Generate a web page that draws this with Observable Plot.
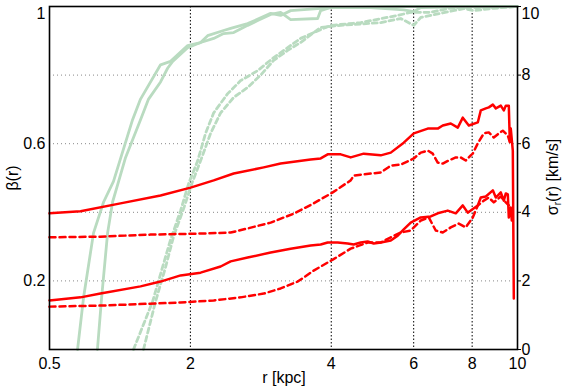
<!DOCTYPE html>
<html>
<head>
<meta charset="utf-8">
<script src="https://cdn.jsdelivr.net/npm/d3@7"></script>
<script src="https://cdn.jsdelivr.net/npm/@observablehq/plot@0.6"></script>
<style>
  html, body { margin: 0; padding: 0; background: #fff; }
  #chart { width: 565px; height: 390px; }
  svg { font-family: "Liberation Sans", Arial, sans-serif; }
</style>
</head>
<body>
<div id="chart"></div>
<script>
// ---- axis ticks ----
const xTickValues = [1, 2, 4, 6, 8, 10];
const xTickLabels = ["0.5", "2", "4", "6", "8", "10"];
const betaTicks = [0.2, 0.6, 1];
const betaGrid = [0.2, 0.4, 0.6, 0.8];
const sigmaTicks = [0, 2, 4, 6, 8, 10];
const sigmaMax = 10;

// ---- beta(r) curves (green) ----
const rBetaSolidA = [1.148, 1.182, 1.242, 1.305, 1.370, 1.505, 1.565, 1.727, 1.814, 1.973, 2.103, 2.177, 2.355, 2.438, 2.651, 2.969, 3.118, 3.276, 3.989, 5.630, 10];
const betaSolidA  = [0.00, 0.15, 0.34, 0.43, 0.49, 0.67, 0.73, 0.83, 0.84, 0.886, 0.895, 0.915, 0.93, 0.936, 0.95, 0.98, 0.974, 0.988, 0.997, 1.0, 1.0];

const rBetaSolidB = [1.266, 1.292, 1.331, 1.364, 1.405, 1.454, 1.565, 1.628, 1.727, 1.788, 1.833, 1.973, 2.103, 2.243, 2.355, 2.475, 2.651, 2.785, 2.969, 3.118, 3.276, 3.741, 3.797, 3.989, 4.857, 5.714, 6.003, 6.213, 7.945, 10];
const betaSolidB  = [0.00, 0.15, 0.34, 0.43, 0.49, 0.56, 0.67, 0.73, 0.78, 0.82, 0.84, 0.88, 0.895, 0.907, 0.921, 0.924, 0.945, 0.959, 0.977, 0.983, 0.962, 0.965, 0.988, 0.997, 0.997, 0.99, 0.985, 0.997, 1.0, 1.0];

const rBetaDashA = [1.512, 1.661, 1.744, 1.814, 1.906, 1.983, 2.073, 2.155, 2.243, 2.403, 2.561, 2.785, 3.013, 3.228, 3.440, 3.668, 3.989, 4.623, 5.547, 5.913, 6.526, 7.095, 7.676, 8.641, 9.917];
const betaDashA  = [0.00, 0.14, 0.24, 0.32, 0.405, 0.484, 0.55, 0.63, 0.69, 0.746, 0.784, 0.813, 0.851, 0.88, 0.907, 0.924, 0.945, 0.953, 0.974, 0.983, 0.983, 0.994, 0.997, 0.997, 1.0];

const rBetaDashB = [1.588, 1.685, 1.770, 1.842, 1.934, 2.022, 2.103, 2.209, 2.321, 2.475, 2.651, 2.826, 3.013, 3.228, 3.440, 3.797, 4.191, 5.103, 5.630, 6.003, 6.213, 6.855, 7.676, 8.063, 8.769, 9.917];
const betaDashB  = [0.00, 0.14, 0.24, 0.33, 0.41, 0.49, 0.55, 0.63, 0.69, 0.735, 0.764, 0.80, 0.843, 0.872, 0.895, 0.939, 0.945, 0.953, 0.965, 0.945, 0.968, 0.98, 0.994, 0.988, 0.994, 1.0];

// ---- sigma_r(r) curves (red, km/s) ----
const rSigSolidUp = [1.000, 1.165, 1.418, 1.727, 2.002, 2.243, 2.475, 2.869, 3.118, 3.614, 3.797, 3.930, 4.191, 4.401, 4.692, 5.103, 5.361, 5.714, 6.003, 6.430, 6.754, 6.923, 7.201, 7.454, 7.640, 7.869, 8.225, 8.348, 8.556, 8.683, 8.857, 8.988, 9.211, 9.348, 9.441, 9.581, 9.628, 9.675, 9.772, 9.820];
const sigSolidUp  = [3.97, 4.03, 4.26, 4.49, 4.72, 4.93, 5.13, 5.31, 5.42, 5.54, 5.57, 5.69, 5.69, 5.60, 5.71, 5.66, 5.74, 6.03, 6.30, 6.44, 6.44, 6.53, 6.59, 6.47, 6.76, 6.53, 6.62, 6.97, 7.03, 7.06, 7.14, 7.03, 7.11, 6.97, 7.11, 7.11, 6.09, 6.44, 5.80, 1.49];

const rSigSolidLo = [1.000, 1.165, 1.285, 1.565, 1.727, 1.906, 2.103, 2.321, 2.438, 2.651, 2.969, 3.276, 3.614, 3.797, 3.930, 4.129, 4.337, 4.467, 4.623, 4.785, 4.930, 5.103, 5.361, 5.547, 5.714, 5.913, 6.213, 6.526, 6.754, 7.095, 7.381, 7.640, 7.829, 7.945, 8.225, 8.348, 8.556, 8.857, 8.988, 9.211, 9.348, 9.441, 9.535, 9.581, 9.675, 9.723];
const sigSolidLo  = [1.43, 1.52, 1.63, 1.84, 1.98, 2.16, 2.24, 2.42, 2.57, 2.68, 2.83, 2.94, 3.03, 3.06, 3.12, 3.12, 3.09, 3.06, 3.12, 3.15, 3.09, 3.12, 3.18, 3.32, 3.50, 3.70, 3.85, 3.88, 3.97, 4.05, 3.97, 4.20, 3.99, 4.05, 4.20, 4.43, 4.46, 4.64, 4.43, 4.58, 4.34, 4.55, 4.52, 3.85, 4.14, 3.76];

const rSigDashUp = [1.000, 1.285, 1.644, 2.103, 2.438, 2.651, 2.969, 3.325, 3.668, 4.029, 4.401, 4.467, 4.857, 5.103, 5.361, 5.630, 6.003, 6.213, 6.430, 6.590, 6.754, 6.923, 7.130, 7.381, 7.564, 7.752, 7.945, 8.024, 8.225, 8.472, 8.683, 8.899, 9.121, 9.303, 9.535, 9.675];
const sigDashUp  = [3.27, 3.29, 3.35, 3.38, 3.41, 3.53, 3.70, 3.96, 4.26, 4.58, 4.93, 5.07, 5.13, 5.16, 5.36, 5.39, 5.57, 5.74, 5.80, 5.71, 5.45, 5.42, 5.51, 5.60, 5.60, 5.51, 5.66, 5.71, 6.01, 6.30, 6.33, 6.18, 6.30, 6.38, 6.24, 5.95];

const rSigDashLo = [1.000, 1.285, 1.906, 2.243, 2.561, 2.869, 3.118, 3.391, 3.668, 4.029, 4.401, 4.785, 5.103, 5.361, 5.630, 5.913, 6.213, 6.462, 6.688, 6.923, 7.201, 7.490, 7.752, 8.024, 8.225, 8.472, 8.683, 8.899, 9.211, 9.441, 9.581];
const sigDashLo  = [1.25, 1.28, 1.37, 1.43, 1.52, 1.63, 1.78, 1.98, 2.30, 2.62, 2.94, 3.12, 3.12, 3.27, 3.41, 3.47, 3.76, 3.85, 3.47, 3.41, 3.56, 3.67, 3.56, 3.85, 4.20, 4.34, 4.43, 4.29, 4.46, 4.29, 4.20];

// ---- build tables ----
const toRows = (rs, vs, scale = 1) => rs.map((r, i) => ({r, v: vs[i] / scale}));
const green = "#b9dbc0";
const red = "#ff0000";

const greenSolid = {x: "r", y: "v", stroke: green, strokeWidth: 2.8, strokeLinejoin: "round"};
const greenDash = {...greenSolid, strokeDasharray: "5,3.5"};
const redSolid = {x: "r", y: "v", stroke: red, strokeWidth: 2.5, strokeLinejoin: "round"};
const redDash = {...redSolid, strokeDasharray: "6,4"};

const xLabelRows = xTickValues.map((v, i) => ({v, label: xTickLabels[i]}));

const plot = Plot.plot({
  width: 565,
  height: 390,
  marginLeft: 49,
  marginRight: 48,
  marginTop: 6,
  marginBottom: 41,
  style: {fontFamily: "'Liberation Sans', Arial, sans-serif", fontSize: "16px", background: "#fff"},
  x: {type: "log", domain: [1, 10], axis: null},
  y: {domain: [0, 1], axis: null},
  marks: [
    Plot.gridY(betaGrid, {stroke: "#888", strokeOpacity: 1, strokeWidth: 1, strokeDasharray: "1,3"}),
    Plot.gridX(xTickValues.slice(1, -1), {stroke: "#000", strokeOpacity: 1, strokeWidth: 1, strokeDasharray: "1.5,2"}),
    Plot.line(toRows(rBetaSolidA, betaSolidA), greenSolid),
    Plot.line(toRows(rBetaSolidB, betaSolidB), greenSolid),
    Plot.line(toRows(rBetaDashA, betaDashA), greenDash),
    Plot.line(toRows(rBetaDashB, betaDashB), greenDash),
    Plot.line(toRows(rSigDashUp, sigDashUp, sigmaMax), redDash),
    Plot.line(toRows(rSigDashLo, sigDashLo, sigmaMax), redDash),
    Plot.line(toRows(rSigSolidUp, sigSolidUp, sigmaMax), redSolid),
    Plot.line(toRows(rSigSolidLo, sigSolidLo, sigmaMax), redSolid),
    Plot.frame({stroke: "#000", strokeWidth: 1.6}),
    Plot.text(xLabelRows, {
      x: "v", y: 0, text: "label", dy: 8, lineAnchor: "top",
      fontSize: 16, fill: "#000"
    }),
    Plot.axisY(betaTicks, {
      anchor: "left", tickSize: 0, tickPadding: 4, label: null, fill: "#000",
      tickFormat: d => String(d)
    }),
    Plot.axisY(sigmaTicks.map(s => s / sigmaMax), {
      anchor: "right", tickSize: 3, tickPadding: 1, label: null, fill: "#000",
      tickFormat: d => String(Math.round(d * sigmaMax))
    })
  ]
});

document.getElementById("chart").appendChild(plot);

// nudge the two top tick labels so they sit fully inside the picture
const svg = d3.select(plot);
const svgTop = plot.getBoundingClientRect().top;
svg.selectAll("text").filter(function () {
  const t = this.textContent;
  return (t === "1" || t === "10") && (this.getBoundingClientRect().top - svgTop) < 2;
}).attr("dy", "0.45em");

// ---- axis titles ----
svg.append("text")
  .attr("x", 284).attr("y", 383)
  .attr("text-anchor", "middle")
  .attr("font-size", 16)
  .attr("fill", "#000")
  .text("r [kpc]");

svg.append("text")
  .attr("transform", "translate(18,178) rotate(-90)")
  .attr("text-anchor", "middle")
  .attr("font-size", 16)
  .attr("fill", "#000")
  .text("β(r)");

const sigLabel = svg.append("text")
  .attr("transform", "translate(558,177) rotate(-90)")
  .attr("text-anchor", "middle")
  .attr("font-size", 16)
  .attr("fill", "#000");
sigLabel.append("tspan").text("σ");
sigLabel.append("tspan").attr("font-size", 10).attr("dy", 3).text("r");
sigLabel.append("tspan").attr("dy", -3).text("(r) [km/s]");
</script>
</body>
</html>
